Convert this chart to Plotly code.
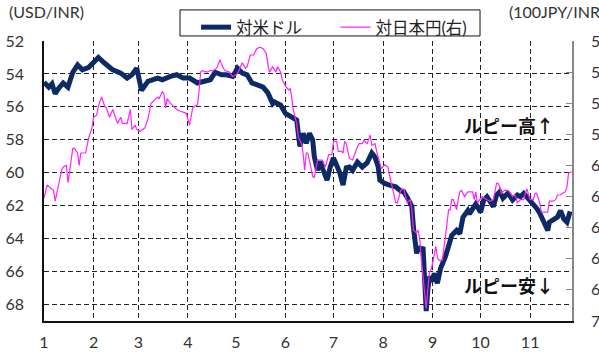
import plotly.graph_objects as go

# ---- data ----
usd_dates = ["2013-01-01","2013-01-04","2013-01-06","2013-01-08","2013-01-10","2013-01-13","2013-01-16","2013-01-19",
 "2013-01-22","2013-01-25","2013-01-29","2013-02-01","2013-02-04","2013-02-08","2013-02-13","2013-02-18","2013-02-22",
 "2013-02-25","2013-02-28","2013-03-03","2013-03-07","2013-03-13","2013-03-16","2013-03-21","2013-03-25","2013-03-29",
 "2013-04-02","2013-04-07","2013-04-10","2013-04-15","2013-04-18","2013-04-22","2013-04-25","2013-04-29","2013-05-02",
 "2013-05-05","2013-05-08","2013-05-11","2013-05-14","2013-05-18","2013-05-21","2013-05-24","2013-05-25","2013-05-29",
 "2013-06-01","2013-06-05","2013-06-08","2013-06-10","2013-06-12","2013-06-14","2013-06-16","2013-06-18","2013-06-19",
 "2013-06-21","2013-06-23","2013-06-24","2013-06-27","2013-06-29","2013-07-01","2013-07-03","2013-07-05","2013-07-07",
 "2013-07-09","2013-07-11","2013-07-13","2013-07-16","2013-07-19","2013-07-22","2013-07-25","2013-07-27","2013-07-29",
 "2013-07-30","2013-08-02","2013-08-05","2013-08-09","2013-08-12","2013-08-14","2013-08-17","2013-08-19","2013-08-20",
 "2013-08-22","2013-08-23","2013-08-25","2013-08-26","2013-08-27","2013-08-28","2013-08-29","2013-08-30","2013-09-01",
 "2013-09-02","2013-09-04","2013-09-06","2013-09-09","2013-09-11","2013-09-13","2013-09-16","2013-09-18","2013-09-20",
 "2013-09-23","2013-09-24","2013-09-28","2013-10-01","2013-10-03","2013-10-05","2013-10-07","2013-10-09","2013-10-11",
 "2013-10-13","2013-10-15","2013-10-18","2013-10-19","2013-10-21","2013-10-24","2013-10-26","2013-10-28","2013-10-30",
 "2013-11-01","2013-11-03","2013-11-05","2013-11-07","2013-11-09","2013-11-12","2013-11-13","2013-11-15","2013-11-18",
 "2013-11-20","2013-11-22","2013-11-24","2013-11-26"]
usd_values = [54.5,54.8,54.6,55.2,54.9,54.55,54.8,53.9,
 53.45,53.75,53.6,53.25,53.0,53.35,53.75,53.95,54.25,
 54.05,53.65,55.0,54.45,54.25,54.35,54.15,54.05,54.25,
 54.25,54.55,54.5,54.35,53.9,54.05,54.05,54.15,53.65,
 53.95,54.05,54.55,54.65,54.8,55.15,55.8,55.7,55.9,
 56.4,56.6,56.8,58.4,57.6,58.2,57.6,58.0,59.0,
 59.85,59.3,59.7,60.45,59.65,59.1,59.55,60.0,60.75,
 59.7,59.65,59.85,59.35,59.65,59.4,58.8,59.05,59.65,
 60.45,60.65,60.75,60.85,61.1,61.15,61.65,62.05,63.3,
 64.9,64.5,64.7,64.5,66.1,68.4,67.1,66.3,66.6,
 66.1,66.7,65.8,65.1,64.5,63.8,63.5,63.7,62.7,
 62.3,62.5,61.9,62.4,61.65,61.45,61.75,62.05,61.35,
 61.15,61.55,61.25,61.35,61.65,61.35,61.45,61.25,61.45,
 61.75,61.85,62.15,62.45,62.9,63.5,63.0,62.9,62.7,
 62.3,62.8,63.0,62.35]

jpy_dates = ["2013-01-01","2013-01-03","2013-01-05","2013-01-07","2013-01-08","2013-01-10","2013-01-12","2013-01-13",
 "2013-01-15","2013-01-16","2013-01-19","2013-01-20","2013-01-22","2013-01-23","2013-01-24","2013-01-27","2013-01-29",
 "2013-01-31","2013-02-01","2013-02-03","2013-02-04","2013-02-06","2013-02-08","2013-02-09","2013-02-11","2013-02-13",
 "2013-02-16","2013-02-18","2013-02-19","2013-02-22","2013-02-24","2013-02-25","2013-02-27","2013-02-28","2013-03-02",
 "2013-03-05","2013-03-07","2013-03-09","2013-03-10","2013-03-13","2013-03-14","2013-03-16","2013-03-17","2013-03-18",
 "2013-03-19","2013-03-21","2013-03-23","2013-03-25","2013-03-27","2013-03-29","2013-03-31","2013-04-02","2013-04-04",
 "2013-04-05","2013-04-07","2013-04-08","2013-04-09","2013-04-10","2013-04-13","2013-04-15","2013-04-17","2013-04-19",
 "2013-04-21","2013-04-22","2013-04-24","2013-04-27","2013-04-29","2013-05-02","2013-05-04","2013-05-05","2013-05-07",
 "2013-05-08","2013-05-10","2013-05-12","2013-05-14","2013-05-16","2013-05-18","2013-05-20","2013-05-21","2013-05-22",
 "2013-05-24","2013-05-26","2013-05-27","2013-05-29","2013-05-30","2013-06-01","2013-06-03","2013-06-04","2013-06-05",
 "2013-06-06","2013-06-08","2013-06-09","2013-06-11","2013-06-12","2013-06-13","2013-06-14","2013-06-15","2013-06-16",
 "2013-06-18","2013-06-19","2013-06-21","2013-06-23","2013-06-24","2013-06-26","2013-06-28","2013-06-30","2013-07-01",
 "2013-07-03","2013-07-04","2013-07-06","2013-07-07","2013-07-08","2013-07-09","2013-07-11","2013-07-13","2013-07-16",
 "2013-07-17","2013-07-19","2013-07-20","2013-07-22","2013-07-23","2013-07-24","2013-07-25","2013-07-27","2013-07-28",
 "2013-07-30","2013-07-31","2013-08-02","2013-08-04","2013-08-05","2013-08-07","2013-08-09","2013-08-10","2013-08-12",
 "2013-08-14","2013-08-16","2013-08-18","2013-08-19","2013-08-20","2013-08-22","2013-08-23","2013-08-24","2013-08-25",
 "2013-08-26","2013-08-27","2013-08-28","2013-08-29","2013-08-30","2013-08-31","2013-09-01","2013-09-03","2013-09-04",
 "2013-09-05","2013-09-07","2013-09-09","2013-09-10","2013-09-11","2013-09-12","2013-09-13","2013-09-14","2013-09-16",
 "2013-09-17","2013-09-18","2013-09-19","2013-09-21","2013-09-23","2013-09-26","2013-09-27","2013-09-28","2013-09-29",
 "2013-10-02","2013-10-05","2013-10-07","2013-10-09","2013-10-10","2013-10-11","2013-10-12","2013-10-13","2013-10-14",
 "2013-10-16","2013-10-18","2013-10-19","2013-10-21","2013-10-22","2013-10-23","2013-10-24","2013-10-26","2013-10-28",
 "2013-10-29","2013-10-30","2013-10-31","2013-11-01","2013-11-03","2013-11-04","2013-11-05","2013-11-07","2013-11-08",
 "2013-11-10","2013-11-12","2013-11-13","2013-11-15","2013-11-17","2013-11-18","2013-11-20","2013-11-21","2013-11-23",
 "2013-11-24","2013-11-25","2013-11-27"]
jpy_values = [62.1,61.25,61.45,61.6,62.3,61.4,60.3,60.1,
 60.0,61.1,58.9,58.9,59.2,60.0,59.2,59.2,58.2,
 57.6,56.9,56.75,56.2,55.6,56.2,56.3,56.9,56.4,
 57.3,56.9,57.3,57.3,56.4,57.7,57.4,57.7,57.8,
 57.6,57.0,56.0,55.9,55.6,55.7,55.25,55.4,56.3,
 55.7,56.0,56.2,56.4,56.5,56.55,56.65,57.4,56.3,
 56.2,56.1,55.15,54.0,53.9,54.0,53.9,53.9,53.75,
 53.2,53.5,53.9,54.0,54.3,54.1,53.65,53.4,53.75,
 53.65,52.9,52.9,52.5,52.4,52.5,52.8,53.5,54.0,
 53.65,54.0,53.65,54.0,54.5,54.9,55.15,55.05,55.7,
 56.5,57.3,58.15,58.6,59.2,60.3,59.2,59.2,59.75,
 60.7,60.8,59.65,59.65,59.65,60.1,59.3,59.3,58.45,
 58.45,59.1,59.1,59.2,58.45,58.6,59.55,59.65,58.8,
 58.6,58.6,58.4,58.6,58.25,58.05,58.7,58.6,59.1,
 59.95,60.2,59.95,60.1,60.6,61.6,62.4,62.4,61.6,
 61.5,62.4,62.2,62.85,64.15,64.35,64.15,64.8,66.1,
 67.15,68.4,69.2,68.0,66.9,66.7,66.3,65.2,65.9,
 66.1,66.1,64.6,63.7,62.85,62.85,62.2,62.2,62.85,
 62.2,61.7,61.6,62.0,61.7,61.7,62.2,61.7,62.4,
 62.0,62.2,62.3,62.2,61.7,61.15,61.15,61.4,61.8,
 61.6,61.6,61.7,62.0,61.9,62.0,62.4,62.2,62.2,
 61.8,61.5,61.9,62.2,62.2,61.8,61.8,62.4,63.0,
 63.0,63.0,62.3,62.3,62.2,61.9,61.9,61.8,61.7,
 61.4,60.5,60.4]

month_ticks = ["2013-01-01","2013-02-01","2013-03-01","2013-04-01","2013-05-01","2013-06-01",
               "2013-07-01","2013-08-01","2013-09-01","2013-10-01","2013-11-01"]
month_labels = ["1","2","3","4","5","6","7","8","9","10","11"]
left_ticks = [52,54,56,58,60,62,64,66,68]
right_ticks = [52,54,56,58,60,62,64,66,68,70]

NAVY = "#0c2a63"
MAGENTA = "#ff22ff"
FONT = "Lato, Noto Sans CJK JP, sans-serif"

fig = go.Figure()
fig.add_trace(go.Scatter(x=usd_dates, y=usd_values, mode="lines", name="対米ドル",
                         line=dict(color=NAVY, width=5), yaxis="y", legend="legend"))
fig.add_trace(go.Scatter(x=jpy_dates, y=jpy_values, mode="lines", name="対日本円(右)",
                         line=dict(color=MAGENTA, width=1.2), yaxis="y2", legend="legend2"))

grid = dict(gridcolor="#222222", griddash="5px,3px", gridwidth=1)
leg = dict(orientation="h", y=1.111, xanchor="left", yanchor="top",
           bgcolor="rgba(0,0,0,0)", borderwidth=0,
           font=dict(family=FONT, size=16.5, color="#222222"), itemwidth=30)

fig.update_layout(
    width=599, height=352,
    margin=dict(l=44, r=27, t=41, b=31, autoexpand=False),
    paper_bgcolor="white", plot_bgcolor="white",
    font=dict(family=FONT, size=16, color="#333333"),
    showlegend=True,
    legend=dict(x=0.288, **leg),
    legend2=dict(x=0.552, **leg),
    xaxis=dict(type="date", range=["2013-01-01", "2013-11-27 04:00"],
               tickvals=month_ticks, ticktext=month_labels, showgrid=True, **grid,
               showline=True, linecolor="#111111", linewidth=1.5, ticks="",
               ticklabelstandoff=6, zeroline=False, automargin=False),
    yaxis=dict(range=[69, 52], tickvals=left_ticks, showgrid=True, **grid,
               showline=True, linecolor="#111111", linewidth=1.5, ticks="",
               ticklabelstandoff=15, zeroline=False, automargin=False),
    yaxis2=dict(range=[70, 52], tickvals=right_ticks, overlaying="y", side="right",
                showgrid=False, showline=True, linecolor="#888888", linewidth=1.5,
                ticks="inside", ticklen=6, tickcolor="#888888",
                ticklabelstandoff=14, zeroline=False, automargin=False),
)

# legend frame
fig.add_shape(type="rect", xref="paper", yref="paper", x0=0.2576, x1=0.8258, y0=1.018, y1=1.111,
              line=dict(color="#111111", width=1), fillcolor="white", layer="below")

fig.add_annotation(text="(USD/INR)", xref="paper", yref="paper", x=-0.07, y=1.105,
                   xanchor="left", yanchor="middle", showarrow=False,
                   font=dict(family=FONT, size=16, color="#333333"))
fig.add_annotation(text="(100JPY/INR)", xref="paper", yref="paper", x=0.876, y=1.105,
                   xanchor="left", yanchor="middle", showarrow=False,
                   font=dict(family=FONT, size=16, color="#333333"))
fig.add_annotation(text="<b>ルピー高↑</b>", xref="paper", yref="paper", x=0.881, y=0.70,
                   xanchor="center", yanchor="middle", showarrow=False,
                   font=dict(family="Noto Sans CJK JP", size=18, color="#111111"))
fig.add_annotation(text="<b>ルピー安↓</b>", xref="paper", yref="paper", x=0.881, y=0.129,
                   xanchor="center", yanchor="middle", showarrow=False,
                   font=dict(family="Noto Sans CJK JP", size=18, color="#111111"))

fig.write_html("out.html")
